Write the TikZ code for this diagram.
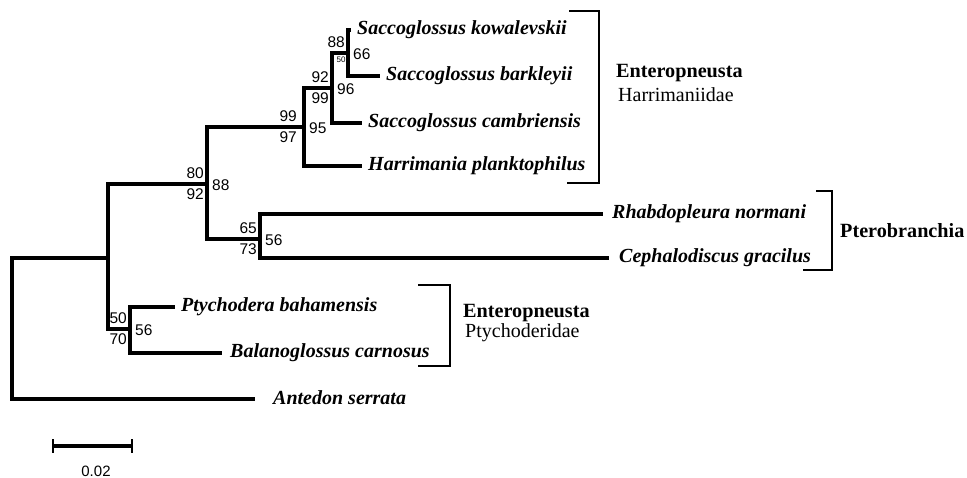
\documentclass[tikz,border=0pt]{standalone}
\usepackage{fontspec}
\setmainfont{Liberation Serif}
\newfontfamily\bsfont{Liberation Sans}
\begin{document}
\begin{tikzpicture}[x=1pt,y=-1pt,
  br/.style={line width=3.2pt},
  brk/.style={line width=1.6pt},
  sp/.style={anchor=base west, inner sep=0pt, xshift=6pt, yshift=-5pt,
    font=\fontsize{20}{22}\selectfont\bfseries\itshape},
  bsa/.style={anchor=base east, inner sep=0pt, xshift=-3pt, yshift=5pt,
    font=\fontsize{15.5}{17}\bsfont},
  bsb/.style={anchor=north east, inner sep=0pt, xshift=-3pt, yshift=-4pt,
    font=\fontsize{15.5}{17}\bsfont},
  bsr/.style={anchor=west, inner sep=0pt, xshift=5pt, yshift=-1.5pt,
    font=\fontsize{15.5}{17}\bsfont},
  clade/.style={anchor=base west, inner sep=0pt, font=\fontsize{20.2}{22}\selectfont\bfseries},
  fam/.style={anchor=base west, inner sep=0pt, font=\fontsize{20}{22}\selectfont}]
\useasboundingbox (0,0) rectangle (967,478);
% internal nodes
\coordinate (root) at (12,330);
\coordinate (A) at (108,258);
\coordinate (B) at (207,184);
\coordinate (C) at (304,127);
\coordinate (D) at (332,88);
\coordinate (E) at (348,53);
\coordinate (F) at (260,239);
\coordinate (G) at (130,329);
% leaves
\coordinate (kow) at (351,30);
\coordinate (bark) at (380,76);
\coordinate (camb) at (362,123);
\coordinate (harr) at (362,166);
\coordinate (rhab) at (603,214);
\coordinate (ceph) at (609,258);
\coordinate (ptych) at (175,307);
\coordinate (balan) at (222,353);
\coordinate (ant) at (255,399);
% branches
\draw[br] (root) |- (A);
\draw[br] (root) |- (ant);
\draw[br] (A) |- (B);
\draw[br] (A) |- (G);
\draw[br] (B) |- (C);
\draw[br] (B) |- (F);
\draw[br] (C) |- (D);
\draw[br] (C) |- (harr);
\draw[br] (D) |- (E);
\draw[br] (D) |- (camb);
\draw[br] (E) |- (kow);
\draw[br] (E) |- (bark);
\draw[br] (F) |- (rhab);
\draw[br] (F) |- (ceph);
\draw[br] (G) |- (ptych);
\draw[br] (G) |- (balan);
% leaf labels
\node[sp] (tkow) at (kow) {Saccoglossus kowalevskii};
\node[sp] (tbark) at (bark) {Saccoglossus barkleyii};
\node[sp] (tcamb) at (camb) {Saccoglossus cambriensis};
\node[sp] (tharr) at (harr) {Harrimania planktophilus};
\node[sp, xshift=3pt] (trhab) at (rhab) {Rhabdopleura normani};
\node[sp, xshift=4pt] (tceph) at (ceph) {Cephalodiscus gracilus};
\node[sp] (tptych) at (ptych) {Ptychodera bahamensis};
\node[sp, xshift=2pt] (tbalan) at (balan) {Balanoglossus carnosus};
\node[sp, xshift=12pt] (tant) at (ant) {Antedon serrata};
% bootstrap values
\node[bsa] (bB1) at (B) {80};
\node[bsb] (bB2) at (B) {92};
\node[bsr] (bB3) at (B) {88};
\node[bsa, xshift=-4pt] (bC1) at (C) {99};
\node[bsb, xshift=-4pt] (bC2) at (C) {97};
\node[bsr] (bC3) at (C) {95};
\node[bsa] (bD1) at (D) {92};
\node[bsb] (bD2) at (D) {99};
\node[bsr] (bD3) at (D) {96};
\node[bsa] (bE1) at (E) {88};
\node[anchor=center, inner sep=0pt, font=\fontsize{8}{9}\bsfont] (bE2) at (341,60) {50};
\node[bsr] (bE3) at (E) {66};
\node[bsa] (bF1) at (F) {65};
\node[bsb] (bF2) at (F) {73};
\node[bsr] (bF3) at (F) {56};
\node[bsa] (bG1) at (G) {50};
\node[bsb] (bG2) at (G) {70};
\node[bsr] (bG3) at (G) {56};
% brackets
\coordinate (h1) at (569,11);
\coordinate (h2) at (599,11);
\coordinate (h3) at (599,183);
\coordinate (h4) at (567,183);
\draw[brk] (h1) -- (h2) -- (h3) -- (h4);
\coordinate (p1) at (816,191);
\coordinate (p2) at (832,191);
\coordinate (p3) at (832,270);
\coordinate (p4) at (803,270);
\draw[brk] (p1) -- (p2) -- (p3) -- (p4);
\coordinate (q1) at (418,285);
\coordinate (q2) at (450,285);
\coordinate (q3) at (450,366);
\coordinate (q4) at (418,366);
\draw[brk] (q1) -- (q2) -- (q3) -- (q4);
% clade labels
\node[clade] (c1) at (616,78) {Enteropneusta};
\node[fam] (f1) at (618,102) {Harrimaniidae};
\node[clade] (c2) at (840,238) {Pterobranchia};
\node[clade] (c3) at (463,318) {Enteropneusta};
\node[fam] (f3) at (465,338) {Ptychoderidae};
% scale bar
\coordinate (sL) at (53,446);
\coordinate (sR) at (132,446);
\draw[br] (sL) -- (sR);
\draw[line width=2.4pt] ([yshift=7pt]sL) -- ([yshift=-7pt]sL);
\draw[line width=2.4pt] ([yshift=7pt]sR) -- ([yshift=-7pt]sR);
\node[inner sep=0pt, font=\fontsize{15}{16}\bsfont] (sl) at (96,471) {0.02};
\end{tikzpicture}
\end{document}
